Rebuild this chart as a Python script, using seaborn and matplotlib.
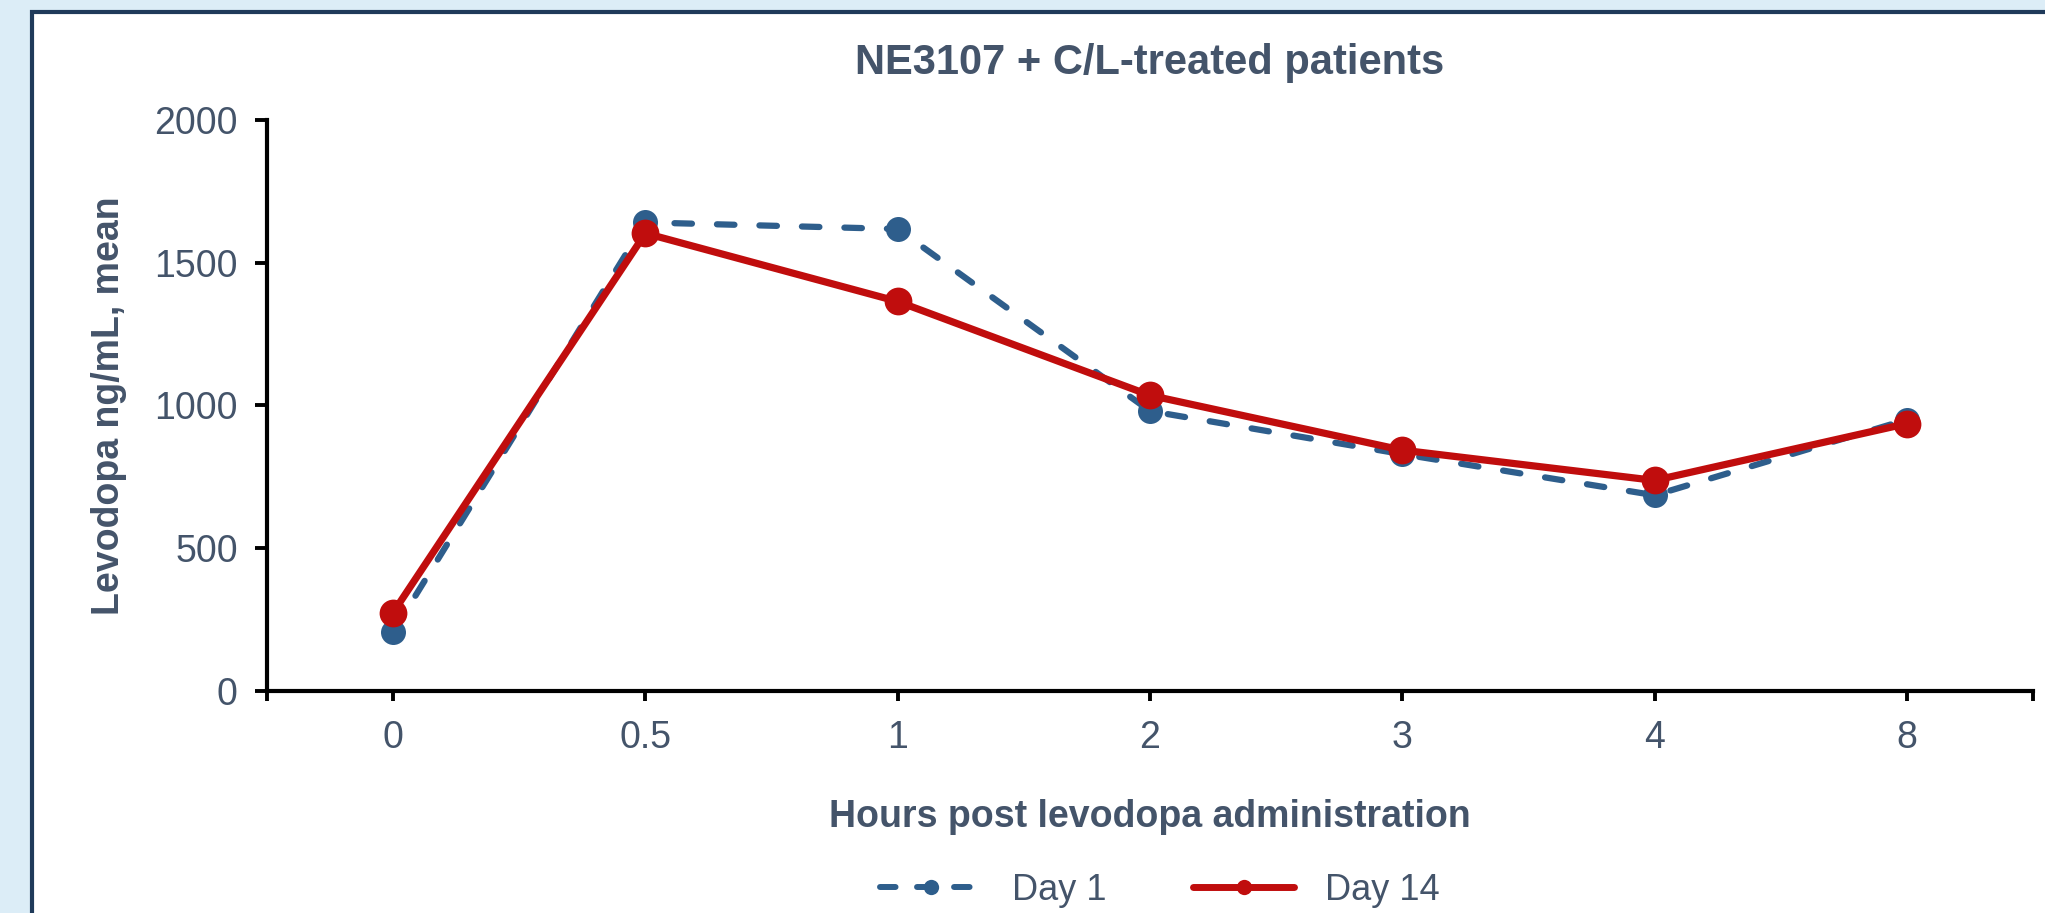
import matplotlib
matplotlib.use("Agg")
import matplotlib.pyplot as plt
import matplotlib.patches as mpatches
from matplotlib.lines import Line2D
import pandas as pd
import seaborn as sns

# Data
hours = ["0", "0.5", "1", "2", "3", "4", "8"]
day1 = [206, 1641, 1618, 980, 829, 685, 950]
day14 = [274, 1603, 1364, 1035, 843, 737, 936]

title = "NE3107 + C/L-treated patients"
xlabel = "Hours post levodopa administration"
ylabel = "Levodopa ng/mL, mean"
yticks = [0, 500, 1000, 1500, 2000]

text_color = "#44546a"
blue = "#2e5e8c"
red = "#c00d0d"

sns.set_style("white")
plt.rcParams["font.family"] = ["Liberation Sans", "DejaVu Sans"]

df = pd.DataFrame({"hours": hours, "pos": range(len(hours)),
                   "Day 1": day1, "Day 14": day14})

fig = plt.figure(figsize=(20.45, 9.13), dpi=100)
fig.patch.set_facecolor("#dcedf7")

# white panel with dark border (cut off at right and bottom)
panel = mpatches.Rectangle((32 / 2045, -0.2), 2.0, 1.2 - 12 / 913,
                           transform=fig.transFigure, facecolor="white",
                           edgecolor="#1f3a5a", linewidth=3, zorder=-10)
fig.patches.append(panel)

ax = fig.add_axes([267 / 2045, 1 - 690.7 / 913, (2033 - 267) / 2045, (690.7 - 120) / 913])
ax.set_zorder(1)
ax.set_facecolor("none")

sns.lineplot(data=df, x="pos", y="Day 1", ax=ax, color=blue, linewidth=4.5,
             marker="o", markersize=18, markeredgewidth=0, zorder=3)
ax.lines[-1].set_dashes((2.8, 4.0))
ax.lines[-1].set_dash_capstyle("round")
sns.lineplot(data=df, x="pos", y="Day 14", ax=ax, color=red, linewidth=5.2,
             marker="o", markersize=20, markeredgewidth=0, zorder=4)

ax.set_xlim(-0.5, len(hours) - 0.5)
ax.set_ylim(0, 2000)
ax.set_xticks(df["pos"])
ax.set_xticklabels(hours)
ax.set_xticks([-0.5, len(hours) - 0.5], minor=True)
ax.set_yticks(yticks)

for side in ["top", "right"]:
    ax.spines[side].set_visible(False)
for side in ["left", "bottom"]:
    ax.spines[side].set_linewidth(3)
    ax.spines[side].set_color("black")

ax.tick_params(axis="x", which="both", bottom=True, direction="out", length=7, width=2.8,
               color="black", labelsize=27, labelcolor=text_color, pad=14)
ax.tick_params(axis="y", left=True, direction="out", length=9, width=2.8,
               color="black", labelsize=27, labelcolor=text_color, pad=12)

ax.set_xlabel(xlabel, fontsize=27, fontweight="bold", color=text_color, labelpad=31)
ax.set_ylabel(ylabel, fontsize=27, fontweight="bold", color=text_color, labelpad=20)
fig.text((267 + 2033) / 2 / 2045, 1 - 63 / 913, title, ha="center", va="center",
         fontsize=30, fontweight="bold", color=text_color)

handles = [
    Line2D([], [], color=blue, linewidth=4.3, dashes=(2.6, 3.6), dash_capstyle="round",
           marker="o", markersize=11, markeredgewidth=0),
    Line2D([], [], color=red, linewidth=5, solid_capstyle="round",
           marker="o", markersize=11, markeredgewidth=0),
]
leg = fig.legend(handles, ["Day 1", "Day 14"], loc="center",
                 bbox_to_anchor=(1160 / 2045, 1 - 890 / 913), ncol=2, frameon=False,
                 fontsize=26, handlelength=2.8, handletextpad=0.85, columnspacing=2.4)
for t in leg.get_texts():
    t.set_color(text_color)

fig.savefig("out.png", dpi=100, facecolor=fig.get_facecolor())
